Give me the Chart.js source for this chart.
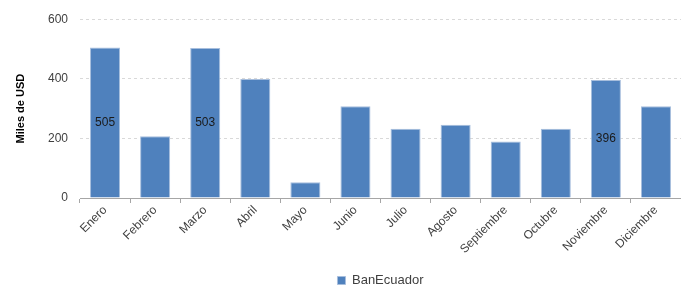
<!DOCTYPE html>
<html>
<head>
<meta charset="utf-8">
<script src="https://cdn.jsdelivr.net/npm/chart.js@4/dist/chart.umd.min.js"></script>
<style>
  html, body { margin: 0; padding: 0; background: #fff; }
  #wrap { width: 681px; height: 287px; position: relative; }
</style>
</head>
<body>
<div id="wrap"><canvas id="chart"></canvas></div>
<script>
const months = ["Enero", "Febrero", "Marzo", "Abril", "Mayo", "Junio", "Julio",
    "Agosto", "Septiembre", "Octubre", "Noviembre", "Diciembre"];
const banEcuador = [505, 207, 503, 399, 53, 308, 232, 246, 190, 232, 396, 308];
// only some bars carry a value label in the original
const showValue = [true, false, true, false, false, false, false, false, false, false, true, false];
const yTicks = [0, 200, 400, 600];

const textColor = "#404040";
const fontFamily = "'Liberation Sans', Arial, sans-serif";

// draws the value in the middle of the bars flagged in showValue
const barValues = {
    id: "barValues",
    afterDatasetsDraw(chart) {
        const ctx = chart.ctx;
        const meta = chart.getDatasetMeta(0);
        ctx.save();
        ctx.font = "12px " + fontFamily;
        ctx.fillStyle = "#1a1a1a";
        ctx.textAlign = "center";
        ctx.textBaseline = "middle";
        meta.data.forEach((bar, i) => {
            if (!showValue[i]) return;
            const mid = (bar.y + bar.base) / 2;
            ctx.fillText(String(banEcuador[i]), bar.x, mid);
        });
        ctx.restore();
    }
};

new Chart(document.getElementById("chart"), {
    type: "bar",
    data: {
        labels: months,
        datasets: [{
            label: "BanEcuador",
            data: banEcuador,
            backgroundColor: "#4F81BD",
            borderColor: "#A7BEDD",
            borderWidth: 1,
            barPercentage: 0.6,
            categoryPercentage: 1.0
        }]
    },
    options: {
        animation: false,
        responsive: true,
        maintainAspectRatio: false,
        layout: { padding: { top: 12, right: 0, left: 10, bottom: -10 } },
        plugins: {
            legend: {
                position: "bottom",
                fullSize: false,
                labels: {
                    boxWidth: 8,
                    boxHeight: 8,
                    padding: 4,
                    color: textColor,
                    font: { family: fontFamily, size: 13 }
                }
            },
            tooltip: { enabled: false }
        },
        scales: {
            x: {
                grid: {
                    offset: true,
                    drawOnChartArea: false,
                    tickLength: 5,
                    color: "#a6a6a6"
                },
                border: { color: "#a6a6a6" },
                ticks: {
                    color: textColor,
                    minRotation: 45,
                    maxRotation: 45,
                    padding: 0,
                    font: { family: fontFamily, size: 12 }
                },
                afterFit(scale) { scale.height = 72; }
            },
            y: {
                min: 0,
                max: 600,
                afterBuildTicks(scale) {
                    scale.ticks = yTicks.map(v => ({ value: v }));
                },
                grid: {
                    drawTicks: false,
                    color: "#d9d9d9",
                    lineWidth: 1
                },
                border: { display: false, dash: [3, 3] },
                ticks: {
                    color: textColor,
                    padding: 12,
                    font: { family: fontFamily, size: 12 }
                },
                title: {
                    display: true,
                    text: "Miles de USD",
                    color: "#000",
                    font: { family: fontFamily, size: 11, weight: "bold" }
                },
                afterFit(scale) { scale.width = 70; }
            }
        }
    },
    plugins: [barValues]
});
</script>
</body>
</html>
